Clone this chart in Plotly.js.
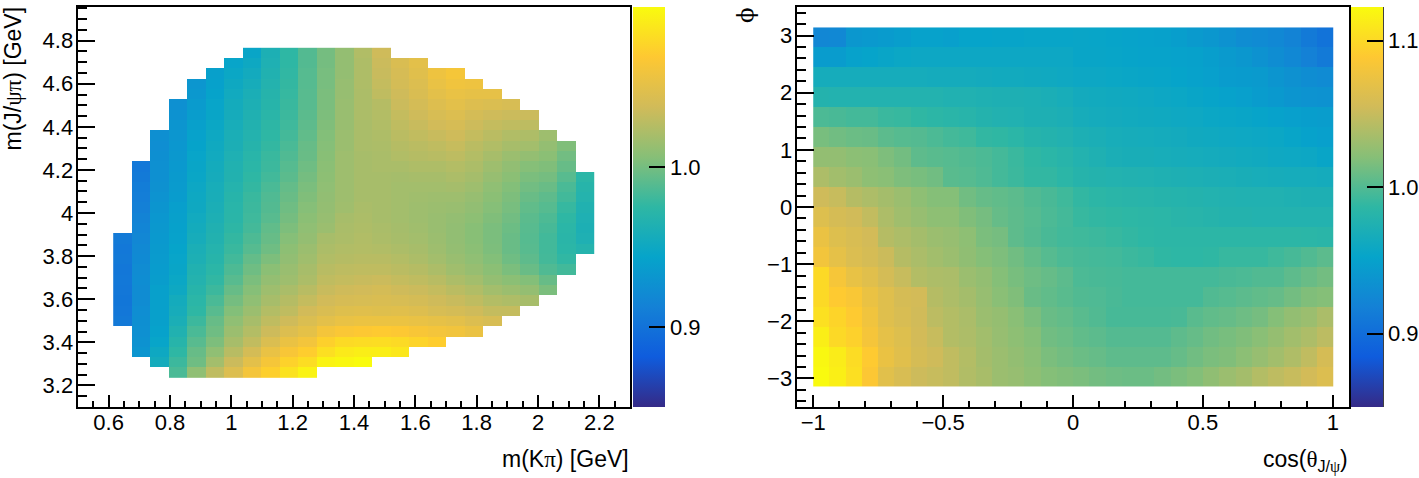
<!DOCTYPE html>
<html><head><meta charset="utf-8">
<script src="https://cdn.plot.ly/plotly-3.0.1.min.js"></script>
<style>html,body{margin:0;padding:0;background:#fff}#c{width:1419px;height:478px}</style>
</head><body><div id="c"></div>
<script>
const _ = null;
// Left panel: one array per m(Kpi) bin, listed from the lowest m(J/psi pi) bin upward
const massBinsKpi = {x0: 0.645, dx: 0.0603};
const massBinsJpsiPi = {y0: 3.261, dy: 0.0478};
const m00=[_,_,_,_,_,.906,.904,.903,.904,.905,.904,.906,.905,.907,_,_,_,_,_,_,_,_,_,_,_,_,_,_,_,_,_,_];
const m01=[_,_,.93,.928,.926,.925,.924,.922,.922,.923,.922,.921,.920,.918,.916,.914,.912,.910,.909,.907,.905,_,_,_,_,_,_,_,_,_,_,_];
const m02=[_,.955,.95,.945,.942,.94,.94,.94,.94,.938,.937,.936,.935,.934,.933,.932,.930,.929,.927,.926,.926,.925,.924,.925,_,_,_,_,_,_,_,_];
const m03=[.985,.98,.975,.97,.965,.96,.957,.955,.95,.948,.946,.945,.944,.942,.941,.94,.939,.937,.936,.935,.934,.933,.932,.931,.93,.928,.926,_,_,_,_,_];
const m04=[1.01,.998,.995,.99,.985,.98,.975,.973,.97,.967,.965,.962,.96,.957,.955,.953,.951,.95,.949,.947,.946,.945,.943,.942,.94,.938,.936,.933,.931,_,_,_];
const m05=[1.03,1.018,1.01,1.003,.998,.995,.99,.985,.98,.976,.973,.97,.968,.966,.964,.962,.96,.959,.958,.956,.955,.953,.952,.95,.948,.946,.945,.943,.941,.94,_,_];
const m06=[1.045,1.035,1.027,1.02,1.015,1.01,1.005,1.0,.995,.99,.986,.982,.979,.977,.974,.972,.971,.97,.968,.966,.965,.963,.961,.96,.958,.956,.955,.953,.951,.948,.945,_];
const m07=[1.062,1.05,1.04,1.031,1.025,1.02,1.015,1.01,1.006,1.002,.998,.994,.989,.986,.983,.981,.98,.979,.977,.975,.973,.971,.969,.967,.966,.964,.962,.96,.957,.954,.95,.946];
const m08=[1.073,1.063,1.054,1.044,1.036,1.03,1.025,1.02,1.016,1.012,1.008,1.003,.998,.995,.993,.99,.988,.987,.985,.982,.98,.979,.977,.975,.974,.972,.97,.969,.967,.965,.963,.962];
const m09=[1.085,1.075,1.065,1.055,1.045,1.037,1.03,1.026,1.021,1.016,1.014,1.011,1.009,1.006,1.003,1.0,.998,.996,.994,.991,.989,.987,.985,.983,.981,.98,.979,.978,.977,.976,.975,.975];
const m10=[1.095,1.082,1.072,1.061,1.051,1.044,1.038,1.032,1.027,1.022,1.02,1.017,1.015,1.012,1.01,1.008,1.006,1.004,1.002,1.0,.998,.996,.995,.993,.992,.991,.99,.99,.989,.989,.988,.988];
const m11=[_,1.095,1.083,1.074,1.062,1.05,1.043,1.038,1.034,1.03,1.027,1.024,1.022,1.02,1.015,1.013,1.012,1.011,1.01,1.009,1.008,1.007,1.006,1.005,1.004,1.003,1.002,1.002,1.001,1.001,1.0,1.0];
const m12=[_,1.098,1.09,1.08,1.066,1.054,1.047,1.041,1.037,1.032,1.029,1.026,1.024,1.022,1.021,1.02,1.017,1.016,1.016,1.016,1.016,1.016,1.015,1.015,1.014,1.014,1.014,1.013,1.013,1.012,1.012,1.012];
const m13=[_,1.1,1.092,1.081,1.068,1.056,1.048,1.042,1.038,1.034,1.03,1.027,1.025,1.024,1.023,1.022,1.021,1.02,1.02,1.02,1.02,1.02,1.021,1.021,1.021,1.022,1.022,1.022,1.023,1.023,1.023,1.024];
const m14=[_,_,1.092,1.082,1.07,1.056,1.047,1.043,1.04,1.035,1.03,1.027,1.024,1.022,1.021,1.02,1.02,1.02,1.02,1.02,1.021,1.021,1.022,1.023,1.024,1.025,1.026,1.03,1.032,1.034,1.035,1.037];
const m15=[_,_,1.088,1.08,1.068,1.056,1.048,1.042,1.037,1.032,1.028,1.025,1.022,1.02,1.019,1.018,1.018,1.018,1.018,1.019,1.021,1.024,1.026,1.028,1.03,1.032,1.035,1.037,1.04,1.041,1.043,_];
const m16=[_,_,_,1.076,1.065,1.054,1.046,1.04,1.035,1.03,1.026,1.022,1.02,1.018,1.017,1.016,1.016,1.017,1.018,1.02,1.023,1.026,1.028,1.031,1.034,1.037,1.04,1.043,1.045,1.048,1.05,_];
const m17=[_,_,_,1.072,1.062,1.052,1.042,1.037,1.032,1.027,1.022,1.018,1.016,1.015,1.014,1.014,1.015,1.016,1.018,1.02,1.023,1.027,1.03,1.034,1.038,1.042,1.046,1.05,1.054,1.058,_,_];
const m18=[_,_,_,_,1.06,1.05,1.04,1.034,1.028,1.022,1.017,1.014,1.012,1.011,1.011,1.012,1.014,1.016,1.019,1.022,1.025,1.029,1.033,1.037,1.041,1.045,1.05,1.054,1.059,1.063,_,_];
const m19=[_,_,_,_,1.055,1.045,1.037,1.03,1.024,1.018,1.013,1.01,1.008,1.007,1.007,1.009,1.011,1.013,1.016,1.019,1.022,1.025,1.028,1.032,1.036,1.04,1.046,1.052,1.058,_,_,_];
const m20=[_,_,_,_,_,1.042,1.032,1.025,1.018,1.012,1.008,1.005,1.003,1.002,1.002,1.004,1.006,1.008,1.01,1.013,1.016,1.02,1.024,1.028,1.032,1.037,1.044,1.052,_,_,_,_];
const m21=[_,_,_,_,_,_,1.032,1.023,1.015,1.008,1.002,.998,.996,.996,.997,.999,1.001,1.003,1.005,1.008,1.011,1.015,1.02,1.024,1.03,1.035,1.042,_,_,_,_,_];
const m22=[_,_,_,_,_,_,_,1.02,1.012,1.005,.996,.992,.99,.989,.99,.991,.993,.996,.999,1.002,1.006,1.012,1.018,1.023,1.029,1.035,_,_,_,_,_,_];
const m23=[_,_,_,_,_,_,_,_,1.002,.995,.987,.983,.982,.982,.984,.986,.989,.992,.996,1.0,1.004,1.008,1.012,1.016,_,_,_,_,_,_,_,_];
const m24=[_,_,_,_,_,_,_,_,_,_,.982,.976,.973,.972,.973,.975,.978,.982,.985,.99,.995,.999,1.004,_,_,_,_,_,_,_,_,_];
const m25=[_,_,_,_,_,_,_,_,_,_,_,_,.968,.963,.962,.963,.965,.968,.97,.973,_,_,_,_,_,_,_,_,_,_,_,_];
const massRatio=[m00,m01,m02,m03,m04,m05,m06,m07,m08,m09,m10,m11,m12,m13,m14,m15,m16,m17,m18,m19,m20,m21,m22,m23,m24,m25];

// Right panel: one array per phi bin, listed from phi = -pi upward, each across cos(theta)
const cosBins = {x0: -0.96875, dx: 0.0625};
const phiBins = {y0: -2.967, dy: 0.34907};
const p00=[1.122,1.115,1.104,1.087,1.067,1.06,1.053,1.05,1.047,1.04,1.036,1.03,1.028,1.024,1.02,1.018,1.016,1.013,1.011,1.01,1.01,1.013,1.016,1.019,1.025,1.03,1.034,1.041,1.046,1.05,1.056,1.063];
const p01=[1.12,1.113,1.102,1.09,1.074,1.066,1.058,1.054,1.047,1.041,1.034,1.03,1.026,1.022,1.016,1.013,1.01,1.008,1.005,1.005,1.005,1.005,1.008,1.012,1.016,1.018,1.023,1.028,1.033,1.039,1.047,1.058];
const p02=[1.114,1.1,1.095,1.082,1.07,1.064,1.056,1.05,1.041,1.038,1.033,1.028,1.024,1.02,1.012,1.01,1.006,1.004,1.001,1.001,1.001,1.001,1.005,1.008,1.012,1.015,1.018,1.022,1.027,1.033,1.038,1.045];
const p03=[1.105,1.097,1.09,1.078,1.065,1.06,1.055,1.045,1.041,1.037,1.03,1.027,1.022,1.016,1.009,1.007,1.003,1.0,.996,.996,.996,.996,.997,1.003,1.006,1.008,1.011,1.014,1.02,1.026,1.03,1.037];
const p04=[1.1,1.09,1.085,1.074,1.065,1.058,1.056,1.042,1.038,1.034,1.028,1.022,1.018,1.009,1.006,1.003,1.0,.999,.997,.995,.995,.995,.995,.995,1.0,1.002,1.004,1.006,1.008,1.013,1.018,1.02];
const p05=[1.1,1.083,1.072,1.066,1.057,1.05,1.041,1.038,1.037,1.03,1.026,1.02,1.015,1.011,1.008,1.004,.998,.997,.996,.995,.995,.995,.995,.995,.995,.997,.998,1.0,1.0,1.005,1.009,1.013];
const p06=[1.08,1.07,1.062,1.058,1.052,1.042,1.037,1.033,1.03,1.025,1.02,1.017,1.012,1.007,1.002,.998,.996,.995,.994,.992,.99,.987,.986,.986,.987,.99,.99,.99,.993,.996,1.0,1.004];
const p07=[1.074,1.064,1.06,1.056,1.042,1.038,1.034,1.03,1.028,1.024,1.016,1.014,1.005,1.001,.997,.994,.993,.992,.99,.988,.986,.985,.985,.985,.985,.985,.985,.985,.985,.985,.984,.983];
const p08=[1.064,1.058,1.055,1.048,1.038,1.032,1.028,1.024,1.024,1.018,1.014,1.008,1.005,1.002,.998,.995,.99,.988,.987,.986,.985,.984,.982,.981,.98,.978,.978,.977,.977,.977,.977,.977];
const p09=[1.054,1.05,1.042,1.038,1.034,1.03,1.024,1.02,1.02,1.012,1.008,1.006,1.004,1.0,.997,.993,.988,.985,.983,.982,.981,.98,.979,.978,.977,.976,.975,.975,.975,.974,.973,.973];
const p10=[1.038,1.033,1.03,1.024,1.022,1.017,1.015,1.012,1.003,1.002,.999,.995,.992,.988,.988,.984,.98,.978,.977,.976,.975,.974,.973,.972,.971,.97,.969,.968,.967,.966,.966,.965];
const p11=[1.026,1.026,1.023,1.022,1.017,1.013,1.005,1.003,1.002,1.0,.998,.995,.991,.987,.984,.981,.977,.974,.97,.969,.969,.968,.967,.966,.965,.964,.963,.962,.96,.959,.958,.955];
const p12=[1.015,1.012,1.01,1.009,1.004,1.002,1.001,.998,.995,.993,.988,.987,.984,.98,.978,.976,.972,.97,.968,.967,.966,.965,.964,.962,.961,.96,.959,.958,.957,.954,.95,.948];
const p13=[.998,.997,.995,.995,.991,.99,.987,.985,.983,.981,.978,.976,.975,.973,.973,.971,.967,.965,.964,.963,.962,.961,.96,.959,.957,.956,.955,.953,.95,.948,.947,.946];
const p14=[.978,.977,.977,.977,.977,.977,.977,.977,.975,.975,.974,.973,.973,.972,.97,.968,.964,.963,.962,.961,.96,.958,.957,.955,.953,.95,.948,.945,.942,.938,.936,.935];
const p15=[.966,.966,.966,.966,.966,.966,.966,.965,.965,.965,.964,.963,.963,.962,.961,.96,.958,.958,.957,.956,.955,.954,.952,.95,.948,.945,.944,.943,.938,.934,.93,.928];
const p16=[.945,.945,.95,.952,.955,.957,.958,.958,.958,.958,.958,.958,.958,.958,.958,.958,.955,.955,.954,.953,.951,.951,.95,.949,.947,.943,.94,.935,.93,.925,.918,.912];
const p17=[.924,.925,.94,.942,.944,.947,.95,.95,.948,.952,.952,.953,.953,.954,.954,.954,.955,.954,.953,.951,.95,.949,.947,.943,.94,.935,.93,.928,.925,.92,.912,.905];
const angleRatio=[p00,p01,p02,p03,p04,p05,p06,p07,p08,p09,p10,p11,p12,p13,p14,p15,p16,p17];

const birdScale=[[0,'rgb(53,42,135)'],[0.125,'rgb(15,92,221)'],[0.25,'rgb(20,129,214)'],[0.375,'rgb(6,164,202)'],[0.5,'rgb(46,183,164)'],[0.625,'rgb(135,191,119)'],[0.75,'rgb(209,187,89)'],[0.875,'rgb(254,200,50)'],[1,'rgb(249,251,14)']];

const W=1419,H=478;
const px=v=>v/W, py=v=>1-v/H;
const FONT='"Liberation Sans", Arial, sans-serif';
const SYM='font-family:Liberation Serif';
const tickFont={family:FONT,size:22,color:'#000'};

function cbar(left){
  return {x:px(left),xanchor:'left',y:py(7),yanchor:'top',lenmode:'pixels',len:400,thicknessmode:'pixels',thickness:32,
    xpad:0,ypad:0,outlinewidth:0,borderwidth:0,ticks:'inside',ticklen:16,tickwidth:2,tickcolor:'#000',
    tick0:0.9,dtick:0.1,tickformat:'.1f',tickfont:tickFont};
}
function axis(dom,range,dt,minorDt,len,standoff,extra){
  return Object.assign({domain:dom,range:range,dtick:dt,tick0:0,ticks:'inside',ticklen:len,tickwidth:2,tickcolor:'#000',ticklabelstandoff:standoff,
    showline:true,linewidth:2.4,linecolor:'#000',mirror:true,showgrid:false,zeroline:false,tickfont:tickFont,
    minor:{dtick:minorDt,tick0:0,ticks:'inside',ticklen:len/2,tickwidth:2,tickcolor:'#000',showgrid:false}},extra||{});
}
const note=(text,x,y,xa,ya,angle)=>({text:text,xref:'paper',yref:'paper',x:x,y:y,xanchor:xa,yanchor:ya,showarrow:false,textangle:angle||0,borderpad:0,font:{family:FONT,size:23,color:'#000'}});

const traces=[
 {type:'heatmap',z:massRatio,transpose:true,x0:massBinsKpi.x0,dx:massBinsKpi.dx,y0:massBinsJpsiPi.y0,dy:massBinsJpsiPi.dy,
  xaxis:'x',yaxis:'y',colorscale:birdScale,zauto:false,zmin:0.85,zmax:1.1002,colorbar:cbar(633),hoverongaps:false},
 {type:'heatmap',z:angleRatio,x0:cosBins.x0,dx:cosBins.dx,y0:phiBins.y0,dy:phiBins.dy,
  xaxis:'x2',yaxis:'y2',colorscale:birdScale,zauto:false,zmin:0.85,zmax:1.123,colorbar:cbar(1351)}
];
const layout={
 width:W,height:H,margin:{l:0,r:0,t:0,b:0,autoexpand:false},paper_bgcolor:'#fff',plot_bgcolor:'#fff',showlegend:false,font:{family:FONT},
 xaxis:axis([px(78),px(630)],[0.5,2.3],0.2,0.05,12,-6,{anchor:'y'}),
 yaxis:axis([py(407),py(7)],[3.1,4.956],0.2,0.05,17,-2,{anchor:'x'}),
 xaxis2:axis([px(797),px(1349)],[-1.0625,1.0625],0.5,0.1,12,-6,{anchor:'y2'}),
 yaxis2:axis([py(407),py(7)],[-3.5,3.5],1,0.2,17,-2,{anchor:'x2'}),
 shapes:[
  {type:'line',xref:'paper',yref:'paper',x0:px(664.5),x1:px(664.5),y0:py(7),y1:py(407),line:{color:'#333',width:1}},
  {type:'line',xref:'paper',yref:'paper',x0:px(1383),x1:px(1383),y0:py(7),y1:py(407),line:{color:'#000',width:1.5}}
 ],
 annotations:[
  note('m(K<span style="'+SYM+'">π</span>) [GeV]',px(630),py(445),'right','top'),
  note('m(J/<span style="'+SYM+'">ψπ</span>) [GeV]',px(12.5),py(6),'center','top',-90),
  note('cos(<span style="'+SYM+'">θ</span><sub>J/<span style="'+SYM+'">ψ</span></sub>)',px(1349),py(445),'right','top'),
  note('<span style="font-family:DejaVu Serif">ϕ</span>',px(745),py(6),'center','top',-90)
 ]
};
Plotly.newPlot('c',traces,layout,{staticPlot:true,displayModeBar:false});
</script>
</body></html>
